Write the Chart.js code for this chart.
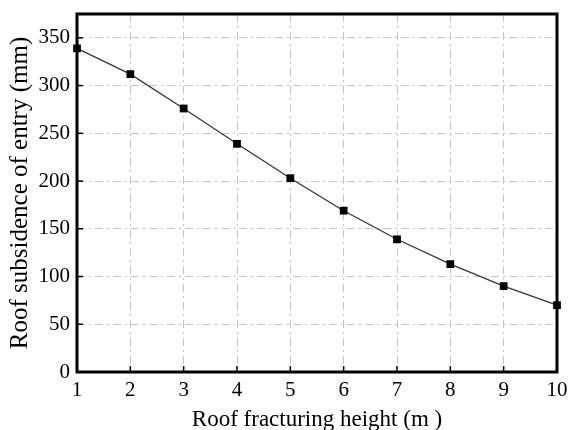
<!DOCTYPE html>
<html>
<head>
<meta charset="utf-8">
<script src="https://cdn.jsdelivr.net/npm/chart.js@4/dist/chart.umd.min.js"></script>
<style>
  html, body { margin: 0; padding: 0; background: #fff; }
  #wrap { width: 570px; height: 430px; }
</style>
</head>
<body>
<div id="wrap"><canvas id="myChart"></canvas></div>
<script>
//---------------------------
// ROOF SUBSIDENCE vs FRACTURING HEIGHT
//---------------------------

var fractureHeight = [1, 2, 3, 4, 5, 6, 7, 8, 9, 10];
var subsidence = [339, 312, 276, 239, 203, 169, 139, 113, 90, 70];
var yLabelStep = 50;

var serif = 'Liberation Serif';
var gridDash = [8, 4, 2, 4];

// frame + inward tick marks, like an Origin plot
const frameAndTicks = {
    id: 'frameAndTicks',
    beforeDatasetsDraw(chart) {
        const c = chart.ctx;
        const a = chart.chartArea;
        const x = chart.scales.x;
        const y = chart.scales.y;
        c.save();
        c.strokeStyle = '#000';
        c.lineWidth = 1.5;
        y.ticks.forEach(function (t) {
            const py = y.getPixelForValue(t.value);
            const len = t.value % yLabelStep === 0 ? 6 : 4;
            c.beginPath();
            c.moveTo(a.left, py);
            c.lineTo(a.left + len, py);
            c.stroke();
        });
        x.ticks.forEach(function (t) {
            const px = x.getPixelForValue(t.value);
            c.beginPath();
            c.moveTo(px, a.bottom);
            c.lineTo(px, a.bottom - 6);
            c.stroke();
        });
        c.lineWidth = 3;
        c.strokeRect(a.left, a.top, a.right - a.left, a.bottom - a.top);
        c.restore();
    }
};

const ctx = document.getElementById('myChart');

new Chart(ctx, {
    type: 'line',
    data: {
        datasets: [{
            label: 'Roof subsidence',
            data: fractureHeight.map(function (h, i) { return { x: h, y: subsidence[i] }; }),
            borderColor: '#333',
            borderWidth: 1.2,
            backgroundColor: '#000',
            pointStyle: 'rect',
            pointRadius: 5.5,
            pointBorderWidth: 0,
            pointBackgroundColor: '#000',
            tension: 0,
            clip: false
        }]
    },
    options: {
        responsive: true,
        maintainAspectRatio: false,
        animation: false,
        events: [],
        layout: { padding: { top: 14, right: 13, left: 0, bottom: 0 } },
        plugins: {
            legend: { display: false },
            tooltip: { enabled: false }
        },
        scales: {
            x: {
                type: 'linear',
                min: 1,
                max: 10,
                afterFit: function (s) {
                    s.height = 58;
                    s.paddingLeft = 0;
                    s.paddingRight = 0;
                },
                grid: {
                    drawTicks: false,
                    color: function (c) {
                        return (c.tick.value === 1 || c.tick.value === 10) ? 'rgba(0,0,0,0)' : '#c4c4c4';
                    },
                    lineWidth: 1
                },
                border: { display: false, dash: gridDash },
                ticks: {
                    stepSize: 1,
                    padding: 6,
                    color: '#000',
                    maxRotation: 0,
                    font: { family: serif, size: 21 }
                },
                title: {
                    display: true,
                    text: 'Roof fracturing height (m )',
                    color: '#000',
                    padding: { top: 0, bottom: -1 },
                    font: { family: serif, size: 23, lineHeight: 1 }
                }
            },
            y: {
                min: 0,
                max: 375,
                afterFit: function (s) {
                    s.width = 77;
                    s.paddingTop = 0;
                    s.paddingBottom = 0;
                },
                grid: {
                    drawTicks: false,
                    color: function (c) {
                        return (c.tick.value === 0 || c.tick.value === 375) ? 'rgba(0,0,0,0)' : '#c4c4c4';
                    },
                    lineWidth: 1
                },
                border: { display: false, dash: gridDash },
                ticks: {
                    stepSize: 25,
                    padding: 7,
                    color: '#000',
                    font: { family: serif, size: 21 },
                    callback: function (v) { return v % yLabelStep === 0 ? v : ''; }
                },
                title: {
                    display: true,
                    text: 'Roof subsidence of entry (mm)',
                    color: '#000',
                    padding: { top: 8, bottom: 0 },
                    font: { family: serif, size: 25, lineHeight: 1 }
                }
            }
        }
    },
    plugins: [frameAndTicks]
});
</script>
</body>
</html>
